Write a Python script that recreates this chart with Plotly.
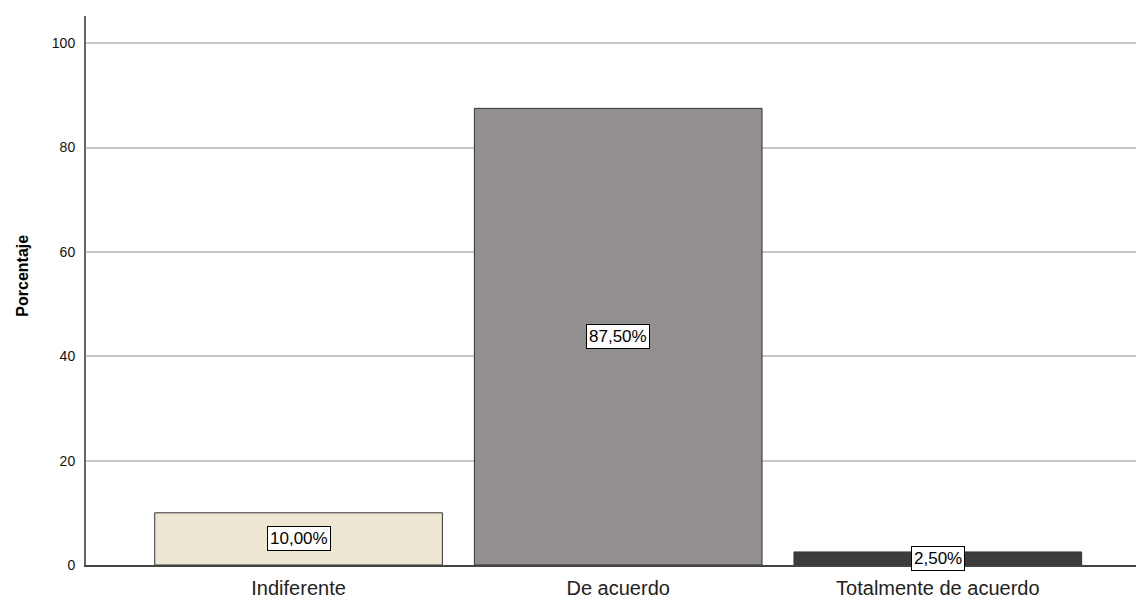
import plotly.graph_objects as go

categories = ["Indiferente", "De acuerdo", "Totalmente de acuerdo"]
values = [10.0, 87.5, 2.5]
labels = ["10,00%", "87,50%", "2,50%"]
colors = ["#EDE6D2", "#938F8E", "#3D3D3D"]
y_ticks = [0, 20, 40, 60, 80, 100]
y_title = "Porcentaje"

fig = go.Figure()
fig.add_trace(go.Bar(
    x=categories, y=values,
    marker=dict(color=colors, line=dict(color="#333333", width=1)),
    width=0.9,
    hoverinfo="skip",
))

for c, v, t in zip(categories, values, labels):
    fig.add_annotation(
        x=c, y=v / 2, text=t, showarrow=False,
        font=dict(family="Liberation Sans, Arial, sans-serif", size=17, color="black"),
        bgcolor="white", bordercolor="black", borderwidth=1, borderpad=2,
    )

fig.add_annotation(
    xref="paper", yref="paper", x=0, y=0.527, xanchor="center", yanchor="middle",
    xshift=-63, textangle=-90, showarrow=False,
    text="<b>" + y_title + "</b>",
    font=dict(family="Liberation Sans, Arial, sans-serif", size=16, color="black"),
)

fig.update_layout(
    width=1136, height=599,
    margin=dict(l=86, r=0, t=16, b=32),
    paper_bgcolor="white", plot_bgcolor="white",
    showlegend=False,
    font=dict(family="Liberation Sans, Arial, sans-serif", color="black"),
)
fig.update_xaxes(
    range=[-0.665, 2.62],
    showline=True, linecolor="#444444", linewidth=1.5,
    showgrid=False, ticks="",
    tickfont=dict(size=20, color="#222222"),
    ticklabelstandoff=4,
)
fig.update_yaxes(
    range=[0, 105.2],
    tickvals=y_ticks,
    showline=True, linecolor="#666666", linewidth=2,
    showgrid=True, gridcolor="#C8C8C8", gridwidth=1.5,
    zeroline=False, ticks="",
    tickfont=dict(size=14, color="#111111"),
    ticklabelstandoff=6,
)

fig.write_html("out.html")
